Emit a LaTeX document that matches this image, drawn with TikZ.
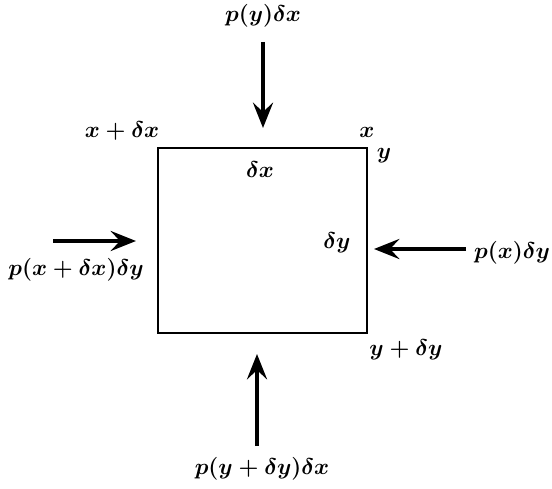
\documentclass[tikz,border=0pt]{standalone}
\usetikzlibrary{arrows.meta}
\begin{document}
\begin{tikzpicture}[x=0.75pt,y=-0.75pt,
  lbl/.style={inner sep=0pt,font=\LARGE\boldmath,scale=0.99},
  force/.style={line width=3.3pt,-{Stealth[length=19pt,width=15pt,inset=7pt]}},
  boxline/.style={line width=2.2pt}]
\useasboundingbox (0,0) rectangle (552,488);
% box
\coordinate (tl) at (158,148);
\coordinate (br) at (367,333);
\draw[boxline] (tl) rectangle (br);
% arrow anchor points
\coordinate (ta) at (263,42);
\coordinate (tb) at (263,128);
\coordinate (la) at (53,241);
\coordinate (lb) at (136,241);
\coordinate (ra) at (466,249);
\coordinate (rb) at (374,249);
\coordinate (ba) at (257,446);
\coordinate (bb) at (257,354);
\draw[force] (ta) -- (tb);
\draw[force] (la) -- (lb);
\draw[force] (ra) -- (rb);
\draw[force] (ba) -- (bb);
% labels
\node[lbl] (lt) at (263,16) {$p(y)\delta x$};
\node[lbl] (ll) at (76,270) {$p(x+\delta x)\delta y$};
\node[lbl] (lr) at (512,253) {$p(x)\delta y$};
\node[lbl] (lbm) at (262,469) {$p(y+\delta y)\delta x$};
\node[lbl] (cx) at (122,131) {$x+\delta x$};
\node[lbl] (cxr) at (367,132) {$x$};
\node[lbl] (cy) at (384,156) {$y$};
\node[lbl] (dx) at (260,170) {$\delta x$};
\node[lbl] (dy) at (337,243) {$\delta y$};
\node[lbl] (ydy) at (406,350) {$y+\delta y$};
\end{tikzpicture}
\end{document}
